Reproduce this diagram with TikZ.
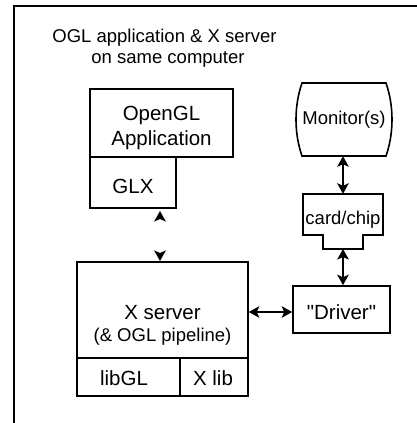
\documentclass[tikz,border=0pt]{standalone}
\usepackage{fontspec}
\setmainfont{Liberation Sans}
\usetikzlibrary{arrows.meta}
\newcommand{\sq}{\XeTeXglyph\XeTeXcharglyph"0022\relax}
\tikzset{
  blk/.tip={Stealth[length=10.5pt,width=11.5pt,inset=2.5pt,color=black]},
  hd/.tip={Stealth[length=10.5pt,width=11.5pt,inset=2.5pt]}
}
\begin{document}
\begin{tikzpicture}[x=1pt,y=-1pt,
  box/.style={draw, line width=1.6pt, inner sep=0pt},
  shapeline/.style={line width=1.6pt},
  ghost/.style={inner sep=0pt},
  big/.style={font=\fontsize{20.5}{25}\selectfont, anchor=base, inner sep=0pt},
  small/.style={font=\fontsize{18.5}{21}\selectfont, anchor=base, inner sep=0pt},
  link/.style={line width=1.6pt, {hd}-{hd}},
]
\useasboundingbox (0,0) rectangle (417,423);
\clip (0,0) rectangle (417,423);
% outer frame (only left and top edges visible)
\draw[line width=2.6pt] (14,450) -- (14,6) -- (450,6);

% title
\node[small] (t1) at (164.5,42) {OGL application \& X server};
\node[small] (t2) at (168,63) {on same computer};

% OpenGL application + GLX
\node[box, minimum width=143pt, minimum height=68pt] (app) at (161.5,123) {};
\node[big] (apptext1) at (161.5,120.3) {OpenGL};
\node[big] (apptext2) at (161.5,145.3) {Application};
\node[box, minimum width=86pt, minimum height=51pt] (glx) at (133,182.5) {};
\node[big] (glxtext) at (133,193.3) {GLX};

% X server
\node[box, minimum width=171pt, minimum height=96pt] (xs) at (162.5,310) {};
\node[big] (xstext) at (162.5,319) {X server};
\node[small] (xstext2) at (162.5,341) {(\& OGL pipeline)};
\node[box, minimum width=103pt, minimum height=38pt] (libgl) at (128.5,377) {};
\node[big] (libgltext) at (124,385.3) {libGL};
\node[box, minimum width=68pt, minimum height=38pt] (xlib) at (214,377) {};
\node[big] (xlibtext) at (213,385.3) {X lib};

% Monitor
\node[ghost, minimum width=96pt, minimum height=73pt] (mon) at (343,119.5) {};
\draw[shapeline] (302,83) -- (386,83)
  .. controls (394,106) and (394,133) .. (386,156)
  -- (302,156)
  .. controls (294,133) and (294,106) .. (302,83) -- cycle;
\node[small] (montext) at (344,124.8) {Monitor(s)};

% card/chip
\node[ghost, minimum width=80pt, minimum height=41pt] (card) at (343,214.5) {};
\draw[shapeline] (303,194) -- (383,194) -- (383,235) -- (363,235) -- (363,249)
  -- (323,249) -- (323,235) -- (303,235) -- cycle;
\coordinate (cardbot) at (343,249);
\node[small] (cardtext) at (343,224) {card/chip};

% Driver
\node[box, minimum width=97pt, minimum height=47pt] (drv) at (341.5,309.5) {};
\node[big] (drvtext) at (341.5,319.3) {\sq Driver\sq};

% connectors
\coordinate (g1) at (160,211);
\coordinate (g2) at (160,261);
\draw[link] (mon.south) -- (card.north);
\draw[link] (cardbot) -- (cardbot |- drv.north);
\draw[link] ([yshift=-2pt]xs.east) -- ([yshift=-2pt]xs.east -| drv.west);
\draw[line width=1.6pt, white, {blk}-{blk}] (g1) -- (g2);
\end{tikzpicture}
\end{document}
